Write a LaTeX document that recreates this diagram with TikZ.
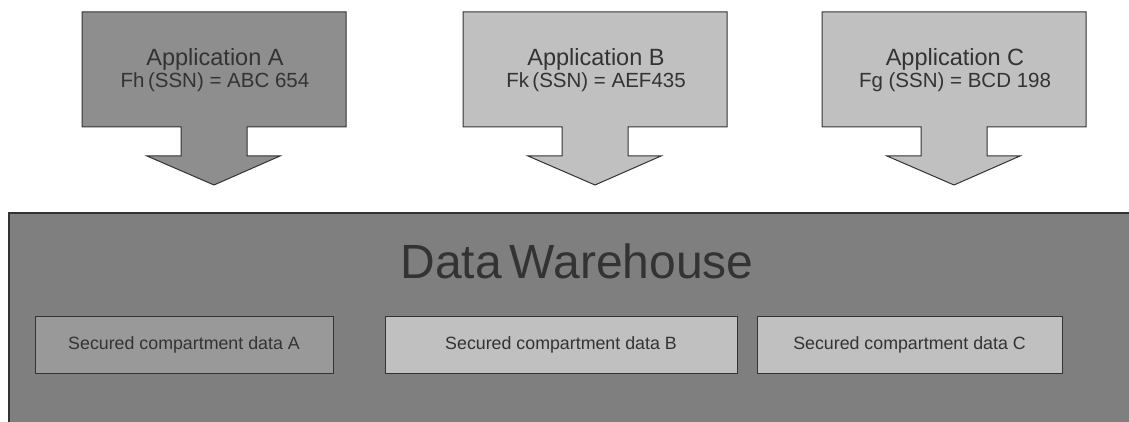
\documentclass[tikz,border=0pt]{standalone}
\usepackage{fontspec}
\setmainfont{Liberation Sans}

\definecolor{appdark}{HTML}{8E8E8E}
\definecolor{applight}{HTML}{C0C0C0}
\definecolor{whouse}{HTML}{7F7F7F}
\definecolor{compdark}{HTML}{999999}
\definecolor{inkgray}{HTML}{333333}

\tikzset{
  apparrow/.style = {draw = inkgray, line width = 1pt},
  apptitle/.style = {anchor = base, text = inkgray, font = \fontsize{23.5}{28}\selectfont},
  appkey/.style = {anchor = base, text = inkgray, font = \fontsize{20.5}{24}\selectfont},
  compartment/.style = {draw = inkgray, line width = 0.8pt, minimum height = 57pt,
    text = inkgray, font = \fontsize{17.8}{21}\selectfont}
}

\begin{document}
\begin{tikzpicture}[x = 1pt, y = -1pt]
\useasboundingbox (0,0) rectangle (1129,422);
% application arrows
\begin{scope}[shift = {(82,0)}]
\draw[apparrow, fill = appdark] (0,12) -- (264,12) -- (264,127) -- (165,127) -- (165,156)
  -- (198,156) -- (132,185) -- (65,156) -- (99,156) -- (99,127) -- (0,127) -- cycle;
\path (133,66) node[apptitle] (titleA) {Application A};
\path (133,88) node[appkey] (keyA) {Fh\,(SSN) = ABC 654};
\end{scope}
\begin{scope}[shift = {(463,0)}]
\draw[apparrow, fill = applight] (0,12) -- (264,12) -- (264,127) -- (165,127) -- (165,156)
  -- (198,156) -- (132,185) -- (65,156) -- (99,156) -- (99,127) -- (0,127) -- cycle;
\path (133,66) node[apptitle] (titleB) {Application B};
\path (133,88) node[appkey] (keyB) {Fk\,(SSN) = AEF435};
\end{scope}
\begin{scope}[shift = {(822,0)}]
\draw[apparrow, fill = applight] (0,12) -- (264,12) -- (264,127) -- (165,127) -- (165,156)
  -- (198,156) -- (132,185) -- (65,156) -- (99,156) -- (99,127) -- (0,127) -- cycle;
\path (133,66) node[apptitle] (titleC) {Application C};
\path (133,88) node[appkey] (keyC) {Fg (SSN) = BCD 198};
\end{scope}
% warehouse
\fill[whouse] (9,213) rectangle (1129,422);
\draw[inkgray, line width = 1.5pt] (9,422) -- (9,213) -- (1129,213);
\path (577,278) node[anchor = base, text = inkgray, font = \fontsize{48}{56}\selectfont] (dw) {Data\,Warehouse};
\path (184,344.5) node[compartment, fill = compdark, minimum width = 298pt] (compA) {Secured compartment data A};
\path (561,344.5) node[compartment, fill = applight, minimum width = 352pt] (compB) {Secured compartment data B};
\path (909.5,344.5) node[compartment, fill = applight, minimum width = 305pt] (compC) {Secured compartment data C};
\end{tikzpicture}
\end{document}
